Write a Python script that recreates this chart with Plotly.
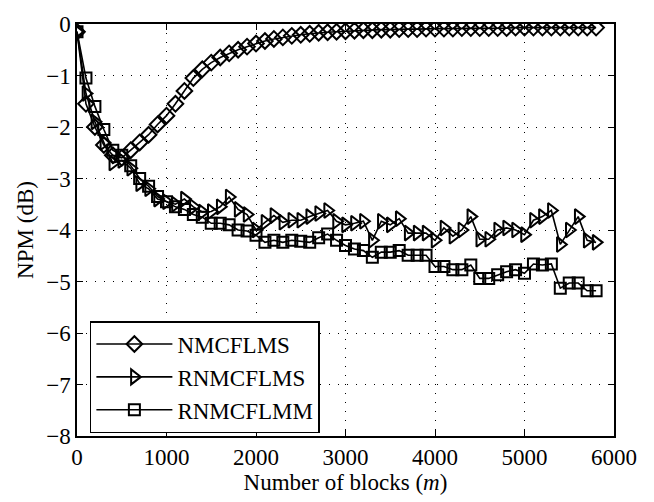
import plotly.graph_objects as go

blocks = list(range(0, 5900, 100))

nmcflms = [-0.15, -1.55, -2.0, -2.35, -2.55, -2.6, -2.45, -2.3, -2.15, -1.95,
           -1.78, -1.55, -1.3, -1.05, -0.88, -0.75, -0.65, -0.57, -0.5, -0.44,
           -0.38, -0.33, -0.29, -0.26, -0.23, -0.21, -0.19, -0.17, -0.16, -0.15,
           -0.14, -0.13, -0.12, -0.12, -0.11, -0.11, -0.1, -0.1, -0.1, -0.09,
           -0.09, -0.09, -0.09, -0.08, -0.08, -0.08, -0.08, -0.08, -0.08, -0.07,
           -0.07, -0.07, -0.07, -0.07, -0.07, -0.07, -0.07, -0.07, -0.07]

rnmcflms = [-0.15, -1.35, -1.9, -2.3, -2.7, -2.65, -2.8, -3.1, -3.2, -3.4,
            -3.45, -3.5, -3.4, -3.55, -3.65, -3.64, -3.55, -3.36, -3.6, -3.7,
            -4.0, -3.85, -3.72, -3.85, -3.81, -3.81, -3.74, -3.68, -3.62, -3.83,
            -3.9, -3.87, -3.83, -4.2, -3.83, -3.9, -3.78, -4.06, -4.06, -4.06,
            -4.2, -3.96, -4.12, -4.0, -3.74, -4.18, -4.18, -4.0, -3.96, -4.0,
            -4.09, -3.81, -3.74, -3.62, -4.28, -4.0, -3.74, -4.2, -4.24]

rnmcflmm = [-0.15, -1.05, -1.6, -2.05, -2.45, -2.55, -2.75, -3.0, -3.15, -3.35,
            -3.45, -3.55, -3.6, -3.7, -3.75, -3.87, -3.87, -3.9, -4.0, -4.02,
            -4.1, -4.24, -4.2, -4.24, -4.2, -4.22, -4.24, -4.15, -4.08, -4.2,
            -4.3, -4.37, -4.4, -4.53, -4.43, -4.43, -4.4, -4.49, -4.49, -4.49,
            -4.71, -4.71, -4.77, -4.77, -4.68, -4.94, -4.94, -4.87, -4.81, -4.77,
            -4.84, -4.66, -4.68, -4.66, -5.13, -5.03, -5.03, -5.18, -5.18]

series_names = ["NMCFLMS", "RNMCFLMS", "RNMCFLMM"]
series_vals = [nmcflms, rnmcflms, rnmcflmm]
symbols = ["diamond-open", "triangle-right-open", "square-open"]
sizes = [12, 13, 11]

x_ticks = [0, 1000, 2000, 3000, 4000, 5000, 6000]
y_ticks = [0, -1, -2, -3, -4, -5, -6, -7, -8]

fig = go.Figure()
for name, vals, sym, sz in zip(series_names, series_vals, symbols, sizes):
    fig.add_trace(go.Scatter(
        x=blocks, y=vals, name=name, mode="lines+markers",
        line=dict(color="black", width=1.6),
        marker=dict(symbol=sym, size=sz, color="black",
                    line=dict(color="black", width=2)),
    ))

font = dict(family="Liberation Serif", size=23, color="black")
axis_common = dict(
    showline=True, linecolor="black", linewidth=1.5, mirror="ticks",
    ticks="inside", ticklen=6, tickwidth=1.2, tickcolor="black",
    showgrid=True, gridcolor="black", gridwidth=1, griddash="1px,8px",
    zeroline=False, tickfont=font,
)

fig.update_layout(
    width=654, height=502,
    margin=dict(l=77, r=40, t=14, b=62),
    paper_bgcolor="white", plot_bgcolor="white",
    font=font,
    xaxis=dict(range=[0, 6000], tickvals=x_ticks,
               title=dict(text="Number of blocks (<i>m</i>)", font=font, standoff=4),
               **axis_common),
    yaxis=dict(range=[-8, 0], tickvals=y_ticks,
               title=dict(text="NPM (dB)", font=font, standoff=6),
               **axis_common),
    legend=dict(x=0.024, y=0.279, xanchor="left", yanchor="top",
                bordercolor="black", borderwidth=1.5, bgcolor="white",
                font=font, tracegroupgap=0, itemwidth=76),
    showlegend=True,
)

fig.write_html("out.html")
